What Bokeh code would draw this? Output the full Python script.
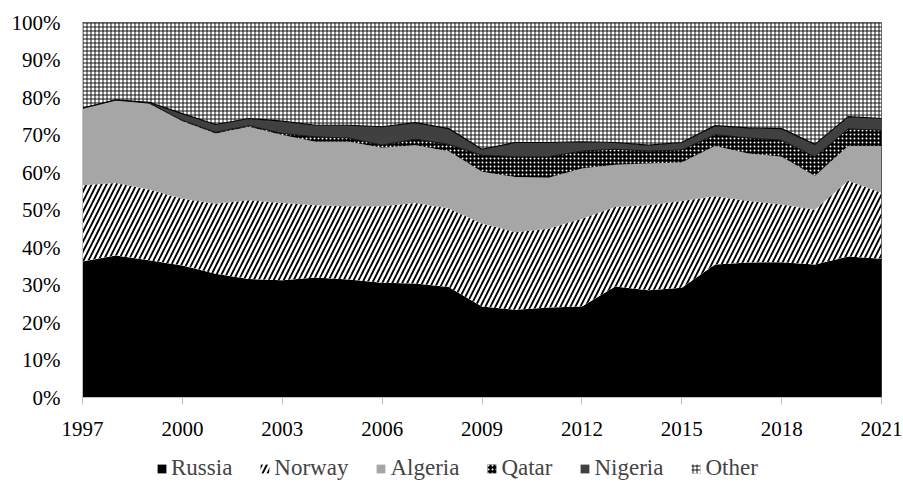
from bokeh.plotting import figure
from bokeh.layouts import column
from bokeh.models import (ColumnDataSource, FixedTicker, PrintfTickFormatter,
                          Legend, LegendItem, Range1d)
from bokeh.transform import stack
from bokeh.embed import file_html
from bokeh.resources import INLINE

years = list(range(1997, 2022))
russia = [36.3, 37.9, 36.6, 35.2, 33.0, 31.6, 31.3, 32.0, 31.5, 30.6, 30.4, 29.5, 24.3,
          23.4, 24.0, 24.3, 29.6, 28.6, 29.3, 35.5, 36.0, 36.1, 35.5, 37.6, 37.0]
norway = [20.3, 19.3, 18.9, 17.8, 18.7, 21.0, 20.6, 19.3, 19.5, 20.4, 21.5, 20.9, 22.1,
          20.7, 21.0, 23.4, 21.2, 22.7, 23.1, 18.2, 16.4, 15.4, 14.6, 20.2, 17.6]
algeria = [20.5, 22.1, 22.9, 20.7, 18.7, 19.6, 18.1, 16.9, 17.2, 15.6, 15.4, 15.3, 13.8,
           14.7, 13.6, 13.4, 11.3, 11.1, 10.3, 13.4, 12.7, 12.7, 9.0, 9.3, 12.5]
qatar = [0.0, 0.0, 0.1, 0.2, 0.3, 0.3, 0.4, 1.3, 1.0, 0.7, 1.6, 1.8, 4.4,
         5.4, 5.6, 4.6, 4.1, 3.3, 3.3, 3.0, 4.1, 4.4, 5.1, 4.5, 4.2]
nigeria = [0.1, 0.1, 0.2, 1.8, 2.1, 1.9, 3.3, 3.1, 3.4, 4.9, 4.4, 4.2, 1.6,
           3.8, 3.8, 2.5, 1.8, 1.6, 2.0, 2.4, 2.7, 3.1, 3.3, 3.3, 3.1]
other = [22.8, 20.6, 21.3, 24.3, 27.2, 25.6, 26.3, 27.4, 27.4, 27.8, 26.7, 28.3, 33.8,
         32.0, 32.0, 31.8, 32.0, 32.7, 32.0, 27.5, 28.1, 28.3, 32.5, 25.1, 25.6]

series = ["Russia", "Norway", "Algeria", "Qatar", "Nigeria", "Other"]
x_ticks = [1997, 2000, 2003, 2006, 2009, 2012, 2015, 2018, 2021]
y_ticks = [0, 10, 20, 30, 40, 50, 60, 70, 80, 90, 100]

source = ColumnDataSource(dict(year=years, Russia=russia, Norway=norway, Algeria=algeria,
                               Qatar=qatar, Nigeria=nigeria, Other=other))

FONT = "Liberation Serif"

STYLES = {
    "Russia": dict(fill_color="black"),
    "Norway": dict(fill_color="white", hatch_pattern="/", hatch_color="black",
                   hatch_scale=10, hatch_weight=1.9),
    "Algeria": dict(fill_color="#a6a6a6"),
    "Qatar": dict(fill_color="black", hatch_pattern=".", hatch_color="white",
                  hatch_scale=4, hatch_weight=1),
    "Nigeria": dict(fill_color="#404040"),
    "Other": dict(fill_color="white", hatch_pattern="+", hatch_color="black",
                  hatch_scale=4, hatch_weight=0.9),
}


def add_areas(fig):
    rs = {}
    for i, name in enumerate(series):
        rs[name] = fig.varea(x="year", y1=stack(*series[:i]) if i > 0 else 0,
                             y2=stack(*series[:i + 1]), source=source, **STYLES[name])
    return rs


p = figure(frame_width=799, frame_height=375, x_range=Range1d(1997, 2021),
           y_range=Range1d(0, 100),
           output_backend="svg", toolbar_location=None,
           min_border_left=82, min_border_right=22, min_border_top=22, min_border_bottom=52)
p.background_fill_color = "white"
p.border_fill_color = "white"
p.outline_line_color = "#404040"
p.outline_line_width = 1
p.xgrid.visible = False
p.ygrid.visible = False

add_areas(p)

# boundary lines
p.line(x="year", y=stack(*series[:5]), source=source, line_color="black", line_width=1.2)
p.line(x="year", y=stack(*series[:4]), source=source, line_color="black", line_width=0.8)

p.xaxis.ticker = FixedTicker(ticks=x_ticks)
p.xaxis.formatter = PrintfTickFormatter(format="%d")
p.yaxis.ticker = FixedTicker(ticks=y_ticks)
p.yaxis.formatter = PrintfTickFormatter(format="%d%%")

for ax in (p.xaxis, p.yaxis):
    ax.major_label_text_font = FONT
    ax.major_label_text_font_size = "21px"
    ax.major_label_text_color = "black"
    ax.axis_line_color = "#bfbfbf"
    ax.minor_tick_line_color = None

p.xaxis.major_tick_line_color = "#bfbfbf"
p.xaxis.major_tick_in = 0
p.xaxis.major_tick_out = 7
p.xaxis.major_label_standoff = 17
p.yaxis.major_tick_line_color = None
p.yaxis.major_label_standoff = 16

# legend strip below the chart
leg = figure(width=903, height=38, x_range=Range1d(0, 1), y_range=Range1d(1000, 1001),
             x_axis_type=None, y_axis_type=None, output_backend="svg",
             toolbar_location=None, min_border=0)
leg.outline_line_color = None
leg.xgrid.visible = False
leg.ygrid.visible = False
leg_rs = add_areas(leg)

legend = Legend(items=[LegendItem(label=n, renderers=[leg_rs[n]]) for n in series],
                orientation="horizontal", location=(74, 6),
                label_text_font=FONT, label_text_font_size="23px",
                glyph_width=11, glyph_height=11, label_standoff=4, spacing=27,
                border_line_color=None, background_fill_alpha=0,
                padding=0, margin=0)
leg.add_layout(legend, "center")

open("out.html", "w").write(file_html(column(p, leg, spacing=0), INLINE))
